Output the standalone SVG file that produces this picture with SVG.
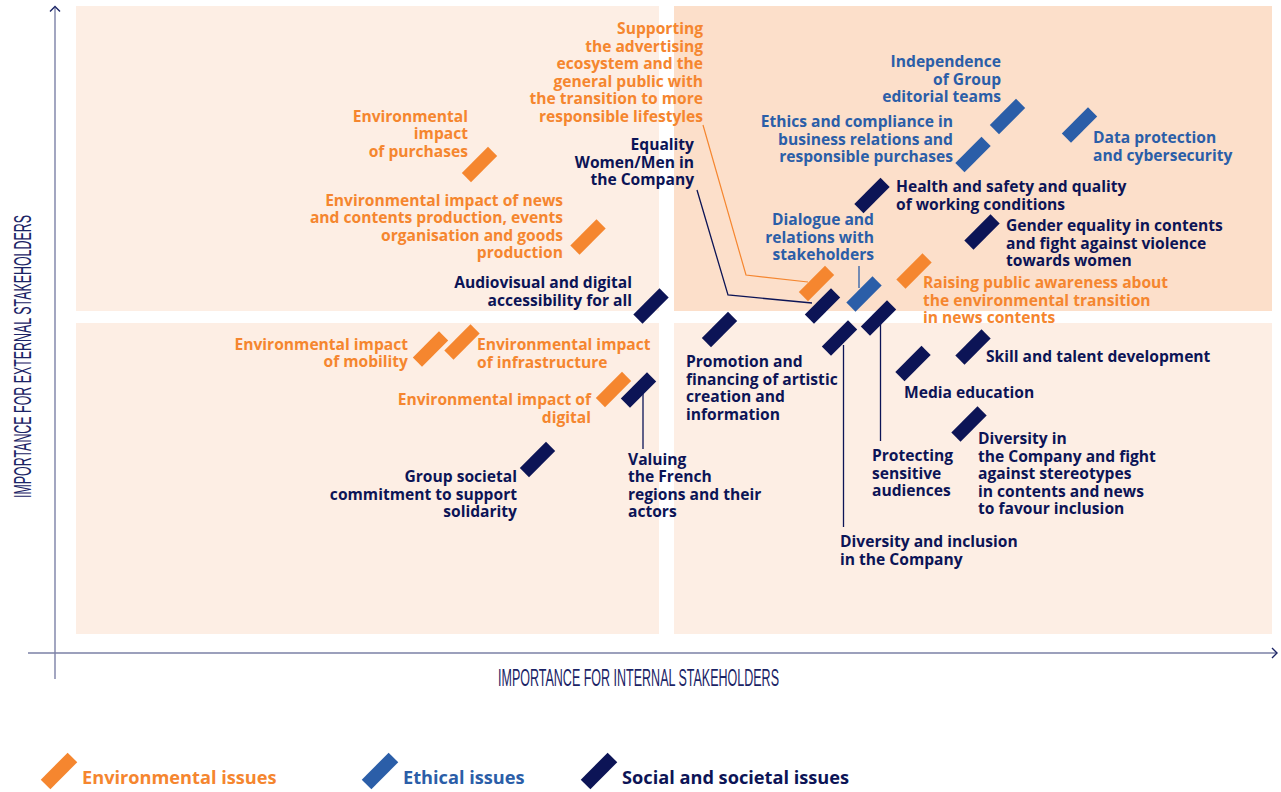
<svg xmlns="http://www.w3.org/2000/svg" xmlns:xlink="http://www.w3.org/1999/xlink" width="1281" height="792" viewBox="0 0 1281 792">
<style>
text{font-family:"Open Sans","Noto Sans","Liberation Sans",sans-serif;font-weight:700;font-size:15.6px}
.o{fill:#F5862F}.b{fill:#2B5EA8}.n{fill:#0C1456}
.e{text-anchor:end}
.q1{fill:#FDEEE4}.q2{fill:#FCDFCA}
.ax{stroke:#7B80A6;stroke-width:1.4;fill:none}
.ah{stroke:#1B2466;stroke-width:1.4;fill:none}
.axl{font-family:"Liberation Sans",sans-serif;font-weight:400;font-size:23px;fill:#1B2466}
.cn{stroke:#0C1456;stroke-width:1.3;fill:none}
.co{stroke:#F5862F;stroke-width:1.2;fill:none}
.cb{stroke:#2B5EA8;stroke-width:1.3;fill:none}
.lg{font-size:18.2px}
</style>
<defs>
<rect id="m" x="-18.5" y="-6.5" width="37" height="13"/>
<rect id="ml" x="-19" y="-6.8" width="38" height="13.6"/>
</defs>
<g id="background">
<rect class="q1" x="76" y="6" width="583" height="305"/>
<rect class="q2" x="674" y="6" width="598" height="305"/>
<rect class="q1" x="76" y="323" width="583" height="311"/>
<rect class="q1" x="674" y="323" width="598" height="311"/>
</g>
<g id="axes">
<line class="ax" x1="55" y1="8" x2="55" y2="679"/>
<line class="ax" x1="28" y1="653" x2="1276" y2="653"/>
<polyline class="ah" points="50,11.5 55,6.5 60,11.5"/>
<polyline class="ah" points="1272,648 1277,653 1272,658"/>
<text class="axl" x="638.5" y="686" text-anchor="middle" textLength="281" lengthAdjust="spacingAndGlyphs">IMPORTANCE FOR INTERNAL STAKEHOLDERS</text>
<text class="axl" transform="translate(31,356.5) rotate(-90)" x="0" y="0" text-anchor="middle" textLength="283" lengthAdjust="spacingAndGlyphs">IMPORTANCE FOR EXTERNAL STAKEHOLDERS</text>
</g>
<g id="connectors">
<polyline class="co" points="703,125 746,275 808,282"/>
<polyline class="cn" points="697,190 728,295 812,303"/>
<line class="cb" x1="859" y1="266" x2="859" y2="288"/>
<line class="cn" x1="843.5" y1="345" x2="843.5" y2="527"/>
<line class="cn" x1="880.5" y1="322" x2="880.5" y2="441"/>
<line class="cn" x1="643" y1="392" x2="643" y2="449"/>
</g>
<g id="node-supporting-advertising">
<use href="#m" class="o" transform="translate(816.5,283.5) rotate(-45)"/>
<text class="o e"><tspan x="703" y="34">Supporting</tspan><tspan x="703" y="51.5">the advertising</tspan><tspan x="703" y="69">ecosystem and the</tspan><tspan x="703" y="86.5">general public with</tspan><tspan x="703" y="104">the transition to more</tspan><tspan x="703" y="121.5">responsible lifestyles</tspan></text>
</g>
<g id="node-equality-women-men">
<use href="#m" class="n" transform="translate(822.5,306) rotate(-45)"/>
<text class="n e"><tspan x="694" y="150">Equality</tspan><tspan x="694" y="167.5">Women/Men in</tspan><tspan x="694" y="185">the Company</tspan></text>
</g>
<g id="node-dialogue">
<use href="#m" class="b" transform="translate(864,294) rotate(-45)"/>
<text class="b e"><tspan x="874" y="225">Dialogue and</tspan><tspan x="874" y="242.5">relations with</tspan><tspan x="874" y="260">stakeholders</tspan></text>
</g>
<g id="node-independence">
<use href="#m" class="b" transform="translate(1007.5,116.5) rotate(-45)"/>
<text class="b e"><tspan x="1001" y="67">Independence</tspan><tspan x="1001" y="84.5">of Group</tspan><tspan x="1001" y="102">editorial teams</tspan></text>
</g>
<g id="node-ethics">
<use href="#m" class="b" transform="translate(973,154.5) rotate(-45)"/>
<text class="b e"><tspan x="953" y="127">Ethics and compliance in</tspan><tspan x="953" y="144.5">business relations and</tspan><tspan x="953" y="162">responsible purchases</tspan></text>
</g>
<g id="node-data-protection">
<use href="#m" class="b" transform="translate(1079.5,125) rotate(-45)"/>
<text class="b"><tspan x="1093" y="143">Data protection</tspan><tspan x="1093" y="160.5">and cybersecurity</tspan></text>
</g>
<g id="node-health-safety">
<use href="#m" class="n" transform="translate(872,195.5) rotate(-45)"/>
<text class="n"><tspan x="896" y="192">Health and safety and quality</tspan><tspan x="896" y="209.5">of working conditions</tspan></text>
</g>
<g id="node-gender-equality">
<use href="#m" class="n" transform="translate(982,232) rotate(-45)"/>
<text class="n"><tspan x="1006" y="231">Gender equality in contents</tspan><tspan x="1006" y="248.5">and fight against violence</tspan><tspan x="1006" y="266">towards women</tspan></text>
</g>
<g id="node-raising-awareness">
<use href="#m" class="o" transform="translate(914,271) rotate(-45)"/>
<text class="o"><tspan x="923" y="288">Raising public awareness about</tspan><tspan x="923" y="305.5">the environmental transition</tspan><tspan x="923" y="323">in news contents</tspan></text>
</g>
<g id="node-env-purchases">
<use href="#m" class="o" transform="translate(479.5,164.5) rotate(-45)"/>
<text class="o e"><tspan x="468" y="122">Environmental</tspan><tspan x="468" y="139">impact</tspan><tspan x="468" y="156.5">of purchases</tspan></text>
</g>
<g id="node-env-news">
<use href="#m" class="o" transform="translate(588,237) rotate(-45)"/>
<text class="o e"><tspan x="563" y="205.5">Environmental impact of news</tspan><tspan x="563" y="223">and contents production, events</tspan><tspan x="563" y="240.5">organisation and goods</tspan><tspan x="563" y="258">production</tspan></text>
</g>
<g id="node-audiovisual">
<use href="#m" class="n" transform="translate(651,306) rotate(-45)"/>
<text class="n e"><tspan x="632" y="288">Audiovisual and digital</tspan><tspan x="632" y="305.5">accessibility for all</tspan></text>
</g>
<g id="node-env-mobility">
<use href="#m" class="o" transform="translate(430.5,349) rotate(-45)"/>
<text class="o e"><tspan x="408" y="349.5">Environmental impact</tspan><tspan x="408" y="367">of mobility</tspan></text>
</g>
<g id="node-env-infrastructure">
<use href="#m" class="o" transform="translate(462,342) rotate(-45)"/>
<text class="o"><tspan x="477" y="350">Environmental impact</tspan><tspan x="477" y="367.5">of infrastructure</tspan></text>
</g>
<g id="node-env-digital">
<use href="#m" class="o" transform="translate(613.5,389.5) rotate(-45)"/>
<text class="o e"><tspan x="591" y="405">Environmental impact of</tspan><tspan x="591" y="422.5">digital</tspan></text>
</g>
<g id="node-valuing-regions">
<use href="#m" class="n" transform="translate(638.5,390) rotate(-45)"/>
<text class="n"><tspan x="628" y="464.5">Valuing</tspan><tspan x="628" y="482">the French</tspan><tspan x="628" y="499.5">regions and their</tspan><tspan x="628" y="517">actors</tspan></text>
</g>
<g id="node-group-societal">
<use href="#m" class="n" transform="translate(537.5,459.5) rotate(-45)"/>
<text class="n e"><tspan x="517" y="482">Group societal</tspan><tspan x="517" y="499.5">commitment to support</tspan><tspan x="517" y="517">solidarity</tspan></text>
</g>
<g id="node-promotion">
<use href="#m" class="n" transform="translate(719.5,329.5) rotate(-45)"/>
<text class="n"><tspan x="686" y="367">Promotion and</tspan><tspan x="686" y="384.5">financing of artistic</tspan><tspan x="686" y="402">creation and</tspan><tspan x="686" y="419.5">information</tspan></text>
</g>
<g id="node-diversity-inclusion">
<use href="#m" class="n" transform="translate(839.5,338) rotate(-45)"/>
<text class="n"><tspan x="840" y="547">Diversity and inclusion</tspan><tspan x="840" y="564.5">in the Company</tspan></text>
</g>
<g id="node-protecting">
<use href="#m" class="n" transform="translate(878.5,318) rotate(-45)"/>
<text class="n"><tspan x="872" y="461">Protecting</tspan><tspan x="872" y="478.5">sensitive</tspan><tspan x="872" y="496">audiences</tspan></text>
</g>
<g id="node-media-education">
<use href="#m" class="n" transform="translate(913,363.5) rotate(-45)"/>
<text class="n" x="904" y="397.5">Media education</text>
</g>
<g id="node-skill">
<use href="#m" class="n" transform="translate(973,347) rotate(-45)"/>
<text class="n" x="986" y="362">Skill and talent development</text>
</g>
<g id="node-diversity-company">
<use href="#m" class="n" transform="translate(969,424) rotate(-45)"/>
<text class="n"><tspan x="978" y="444">Diversity in</tspan><tspan x="978" y="461.5">the Company and fight</tspan><tspan x="978" y="479">against stereotypes</tspan><tspan x="978" y="496.5">in contents and news</tspan><tspan x="978" y="514">to favour inclusion</tspan></text>
</g>
<g id="legend">
<use href="#ml" class="o" transform="translate(59,771) rotate(-45)"/>
<text class="o lg" x="82" y="784">Environmental issues</text>
<use href="#ml" class="b" transform="translate(380,771) rotate(-45)"/>
<text class="b lg" x="403" y="784">Ethical issues</text>
<use href="#ml" class="n" transform="translate(599,771) rotate(-45)"/>
<text class="n lg" x="622" y="784">Social and societal issues</text>
</g>
</svg>
